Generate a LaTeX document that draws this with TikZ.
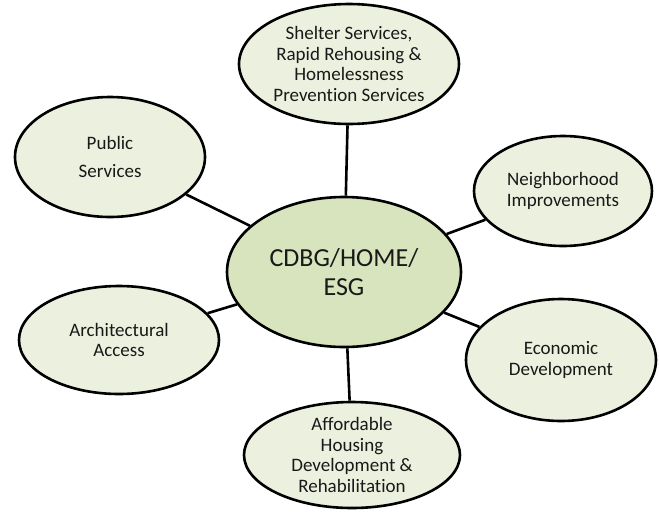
\documentclass[tikz,border=0pt]{standalone}
\usepackage{fontspec}
\setmainfont{Carlito}[Ligatures=NoCommon]
\usetikzlibrary{shapes.geometric}

\definecolor{hubgreen}{HTML}{D7E4BD}
\definecolor{leafgreen}{HTML}{EBF1DE}

\begin{document}
\begin{tikzpicture}[x=1pt, y=-1pt,
  every node/.style={font=\fontsize{19}{20.5}\selectfont, text=black!90},
  bubble/.style={ellipse, draw=black, line width=2.6pt, fill=leafgreen,
                 inner sep=0pt, align=center},
  link/.style={line width=2.6pt}]
  \useasboundingbox (0,0) rectangle (659,512);
  % Hub in the middle
  \node[bubble, fill=hubgreen, minimum width=234pt, minimum height=150pt,
        font=\fontsize{26}{29}\selectfont] (hub) at (344,272) {CDBG/HOME/\\ESG};
  % Program areas around the hub
  \node[bubble, minimum width=220pt, minimum height=120pt] (shelter) at (349,64)
    {Shelter Services,\\Rapid Rehousing \&\\Homelessness\\Prevention Services};
  \node[bubble, minimum width=190pt, minimum height=120pt,
        font=\fontsize{19}{28}\selectfont] (public) at (110,157) {Public\\Services};
  \node[bubble, minimum width=178pt, minimum height=110pt] (neigh) at (563,191)
    {Neighborhood\\Improvements};
  \node[bubble, minimum width=200pt, minimum height=108pt] (arch) at (119,340)
    {Architectural\\Access};
  \node[bubble, minimum width=190pt, minimum height=122pt] (econ) at (561,360)
    {Economic\\Development};
  \node[bubble, minimum width=216pt, minimum height=106pt] (afford) at (352,455)
    {Affordable\\Housing\\Development \&\\Rehabilitation};
  % Spokes
  \foreach \leaf in {shelter,public,neigh,arch,econ,afford}
    \draw[link] (hub) -- (\leaf);
\end{tikzpicture}
\end{document}
